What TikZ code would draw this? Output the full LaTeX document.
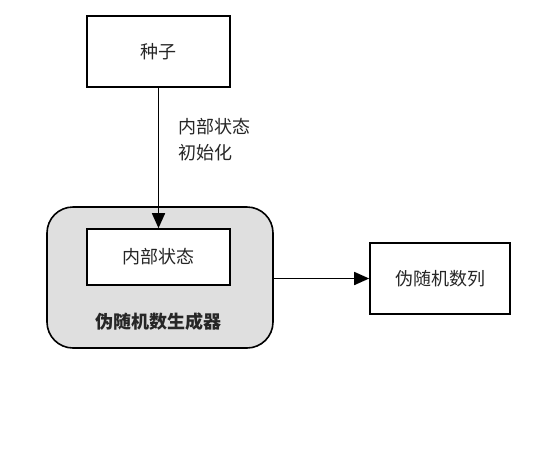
\documentclass[tikz,border=0pt]{standalone}
\usepackage{fontspec}
\setmainfont{Noto Sans CJK SC}
\usetikzlibrary{arrows.meta}
\begin{document}
\begin{tikzpicture}[x=1pt,y=-1pt,
  box/.style={draw=black, line width=1.6pt, fill=white, inner sep=0pt},
  gen/.style={draw=black, line width=1.6pt, fill=gray!25, rounded corners=26pt, inner sep=0pt},
  lbl/.style={font=\fontsize{18}{26}\selectfont, text=black!85},
  arr/.style={-{Triangle[length=15pt,width=13pt]}, line width=1.6pt}]
\useasboundingbox (0,0) rectangle (548,453);
\node[box, minimum width=143pt, minimum height=71pt] (seed) at (158.5,51.5) {};
\node[lbl] at (seed) {种子};
\node[gen, minimum width=226pt, minimum height=141pt] (gen) at (160,277.5) {};
\node[box, minimum width=143pt, minimum height=56pt] (state) at (158.5,257) {};
\node[lbl] at (state) {内部状态};
\node[lbl, font=\fontsize{18}{26}\selectfont\bfseries] (genl) at (158,322) {伪随机数生成器};
\node[box, minimum width=140pt, minimum height=71pt] (out) at (440,278.5) {};
\node[lbl] at (out) {伪随机数列};
\node[lbl, align=left, anchor=west] (init) at (175,139.5) {内部状态\\初始化};
\draw[arr] (seed.south) -- (state.north);
\draw[arr] (gen.east |- out.west) -- (out.west);
\end{tikzpicture}
\end{document}
